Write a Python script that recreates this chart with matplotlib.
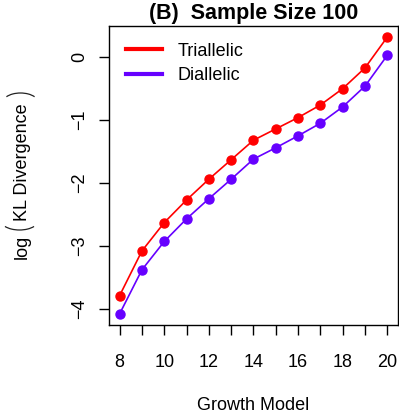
import matplotlib
matplotlib.use('Agg')
import matplotlib.pyplot as plt
from matplotlib.lines import Line2D
from matplotlib.patches import Arc

# Growth models and log KL divergence values
growth_model = [8, 9, 10, 11, 12, 13, 14, 15, 16, 17, 18, 19, 20]
triallelic = [-3.79, -3.08, -2.63, -2.27, -1.94, -1.63, -1.32, -1.14, -0.96, -0.76, -0.50, -0.17, 0.32]
diallelic = [-4.08, -3.38, -2.93, -2.57, -2.25, -1.94, -1.62, -1.44, -1.25, -1.05, -0.79, -0.46, 0.03]
x_tick_labels = [8, 10, 12, 14, 16, 18, 20]
y_ticks = [-4, -3, -2, -1, 0]

red = '#FF0000'
blue = '#6600FF'
W, H = 399, 416

plt.rcParams['font.family'] = ['Liberation Sans', 'DejaVu Sans']

fig = plt.figure(figsize=(W / 100, H / 100), dpi=100)
ax = fig.add_axes([0.273, 0.219, 0.7245, 0.7185])

ax.plot(growth_model, triallelic, color=red, lw=1.2, marker='o', ms=6.5, label='Triallelic')
ax.plot(growth_model, diallelic, color=blue, lw=1.2, marker='o', ms=6.5, label='Diallelic')

# R-style limits (4% padding)
ax.set_xlim(7.52, 20.48)
ax.set_ylim(-4.256, 0.496)

ax.set_xticks(growth_model)
ax.set_xticklabels([str(v) if v in x_tick_labels else '' for v in growth_model])
ax.set_yticks(y_ticks)
ax.set_yticklabels([str(v).replace('-', '\u2212') for v in y_ticks], rotation=90, va='center')
ax.tick_params(direction='out', length=7, width=1, labelsize=13)
ax.tick_params(axis='x', pad=14)
ax.tick_params(axis='y', pad=8)
for s in ax.spines.values():
    s.set_linewidth(1)

ax.set_title('(B)  Sample Size 100', fontsize=15.5, fontweight='bold', pad=5)
ax.set_xlabel('Growth Model', fontsize=13, labelpad=19)

# y label: log( KL Divergence ) with tall thin brackets, like R plotmath
def fx(px):
    return px / W

def fy(py):
    return 1 - py / H

fig.text(fx(27), fy(246.5), 'log', rotation=90, rotation_mode='anchor',
         ha='center', va='baseline', fontsize=13)
fig.text(fx(27), fy(162), 'KL Divergence', rotation=90, rotation_mode='anchor',
         ha='center', va='baseline', fontsize=13)
fig.patches.append(Arc((fx(19.5), fy(220)), fx(38), 20 / H, theta1=203, theta2=337,
                       transform=fig.transFigure, color='#222222', lw=0.9))
fig.patches.append(Arc((fx(20.5), fy(103)), fx(36), 20 / H, theta1=23, theta2=157,
                       transform=fig.transFigure, color='#222222', lw=0.9))

# legend: thick lines only
handles = [Line2D([], [], color=red, lw=3), Line2D([], [], color=blue, lw=3)]
ax.legend(handles, ['Triallelic', 'Diallelic'], loc='upper left', frameon=False,
          fontsize=13, handlelength=1.95, handletextpad=0.9, labelspacing=0.42,
          borderaxespad=0.3, bbox_to_anchor=(0.017, 0.987))

fig.savefig('out.png', dpi=100)
